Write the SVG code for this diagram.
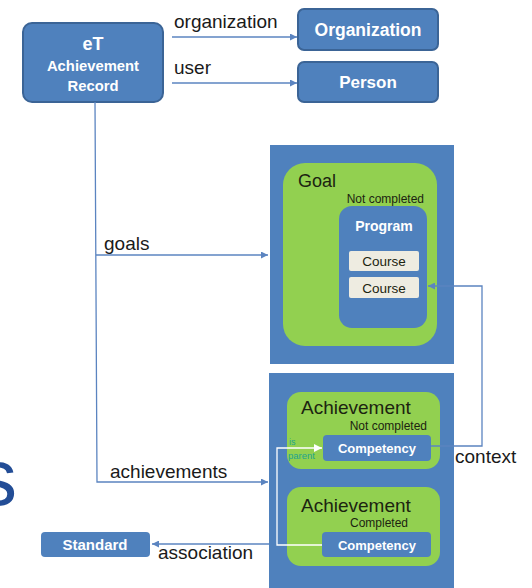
<svg xmlns="http://www.w3.org/2000/svg" width="532" height="588" viewBox="0 0 532 588">
<style>
.blue{fill:#4f81bd;stroke:#3b6496;stroke-width:2}
.cont{fill:#4f81bd}
.green{fill:#92d050}
.inner{fill:#4f81bd}
.course{fill:#eeece1}
.wb{font-family:"Liberation Sans",Arial,sans-serif;font-weight:bold;fill:#ffffff;text-anchor:middle}
.lbl{font-family:"Liberation Sans",Arial,sans-serif;font-size:19px;fill:#1a1a1a}
.dk{font-family:"Liberation Sans",Arial,sans-serif;fill:#1c2410}
.conn{fill:none;stroke:#5b84c0;stroke-width:1.3}
.wconn{fill:none;stroke:#ffffff;stroke-width:1.3}
</style>
<defs>
<marker id="ah" viewBox="0 0 10 10" refX="10" refY="5" markerWidth="8" markerHeight="7" markerUnits="userSpaceOnUse" orient="auto"><path d="M0,0 L10,5 L0,10 z" fill="#5b84c0"/></marker>
<marker id="ahw" viewBox="0 0 10 10" refX="10" refY="5" markerWidth="9" markerHeight="8" markerUnits="userSpaceOnUse" orient="auto"><path d="M0,0 L10,5 L0,10 z" fill="#ffffff"/></marker>
</defs>
<rect width="532" height="588" fill="#ffffff"/>
<text x="-23" y="505" font-family="Liberation Sans,Arial,sans-serif" font-size="80" fill="#234d96">s</text>

<g id="achievementRecord">
<rect class="blue" x="23" y="23" width="140" height="79" rx="9"/>
<text class="wb" x="93" y="50" font-size="18">eT</text>
<text class="wb" x="93" y="71" font-size="14.8">Achievement</text>
<text class="wb" x="93" y="91" font-size="14.8">Record</text>
</g>
<g id="organization">
<rect class="blue" x="298" y="9" width="140" height="41" rx="6"/>
<text class="wb" x="368" y="36" font-size="17.5">Organization</text>
</g>
<g id="person">
<rect class="blue" x="298" y="62" width="140" height="40" rx="6"/>
<text class="wb" x="368" y="88" font-size="17">Person</text>
</g>

<g id="goalContainer">
<rect class="cont" x="270" y="145" width="184" height="219"/>
<g id="goal">
<rect class="green" x="283" y="163" width="154" height="183" rx="22"/>
<text class="dk" x="298" y="187" font-size="18">Goal</text>
<text class="dk" x="424" y="203" font-size="12" text-anchor="end">Not completed</text>
</g>
<g id="program">
<rect class="inner" x="339" y="206" width="88" height="122" rx="13"/>
<text class="wb" x="384" y="231" font-size="14" fill="#eef3fa">Program</text>
</g>
<g id="course1">
<rect class="course" x="349" y="251" width="70" height="20" rx="2"/>
<text class="dk" x="384" y="266" font-size="13.5" text-anchor="middle" fill="#1a1a1a">Course</text>
</g>
<g id="course2">
<rect class="course" x="349" y="277" width="70" height="21" rx="2"/>
<text class="dk" x="384" y="293" font-size="13.5" text-anchor="middle" fill="#1a1a1a">Course</text>
</g>
</g>

<g id="achievementContainer">
<rect class="cont" x="269" y="373" width="185" height="215"/>
<g id="achievement1">
<rect class="green" x="287" y="392" width="153" height="77" rx="14"/>
<text class="dk" x="301" y="414" font-size="19">Achievement</text>
<text class="dk" x="427" y="430" font-size="12" text-anchor="end">Not completed</text>
</g>
<g id="competency1">
<rect class="inner" x="323" y="435" width="108" height="26" rx="4"/>
<text class="wb" x="377" y="453" font-size="13">Competency</text>
</g>
<g id="achievement2">
<rect class="green" x="287" y="487" width="153" height="79" rx="14"/>
<text class="dk" x="301" y="512" font-size="19">Achievement</text>
<text class="dk" x="408" y="527" font-size="12" text-anchor="end">Completed</text>
</g>
<g id="competency2">
<rect class="inner" x="322" y="532" width="109" height="25" rx="4"/>
<text class="wb" x="377" y="550" font-size="13">Competency</text>
</g>
</g>

<g id="standard">
<rect fill="#4f81bd" x="41" y="532" width="109" height="25" rx="4"/>
<text class="wb" x="95" y="550" font-size="15">Standard</text>
</g>

<g id="connectors">
<line class="conn" x1="172" y1="37" x2="297" y2="37" marker-end="url(#ah)"/>
<text class="lbl" x="174" y="28" font-size="18">organization</text>
<line class="conn" x1="172" y1="83" x2="297" y2="83" marker-end="url(#ah)"/>
<text class="lbl" x="174" y="74" font-size="18">user</text>
<polyline class="conn" points="95,102 97,482 268,482" marker-end="url(#ah)"/>
<line class="conn" x1="96" y1="255" x2="268" y2="255" marker-end="url(#ah)"/>
<text class="lbl" x="104" y="250">goals</text>
<text class="lbl" x="110" y="478">achievements</text>
<polyline class="conn" points="431,446 482,446 482,286 428,286" marker-end="url(#ah)"/>
<text class="lbl" x="455" y="463">context</text>
<polyline class="wconn" points="322,545 277,545 277,448 322,448" marker-end="url(#ahw)"/>
<text x="289" y="445" font-family="Liberation Sans,Arial,sans-serif" font-size="9" fill="#23a48f">is</text>
<text x="288" y="459" font-family="Liberation Sans,Arial,sans-serif" font-size="9.5" fill="#23a48f">parent</text>
<line class="conn" x1="269" y1="544" x2="152" y2="544" marker-end="url(#ah)"/>
<text class="lbl" x="158" y="559">association</text>
</g>
</svg>
